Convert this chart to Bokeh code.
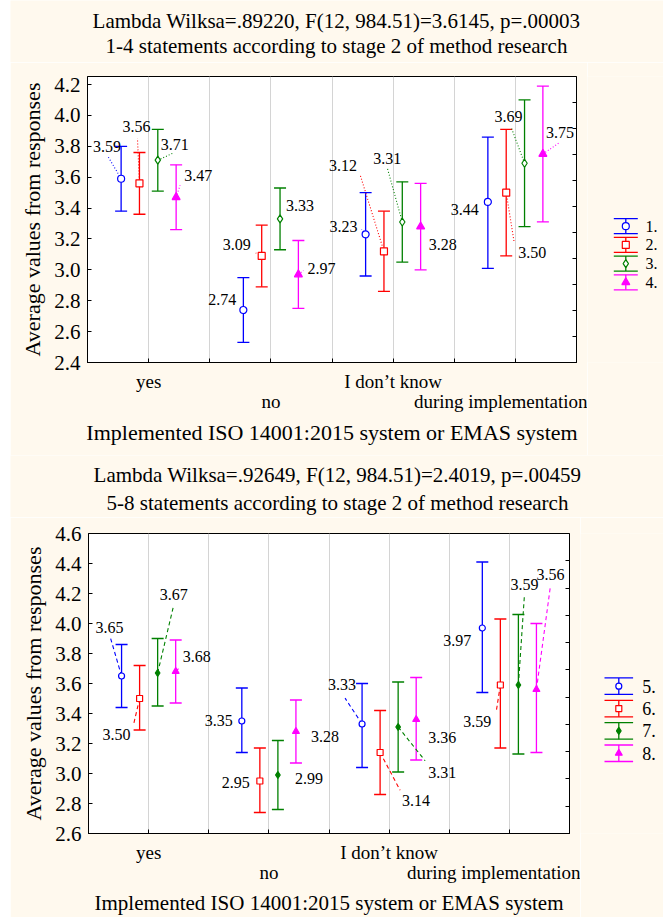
from bokeh.plotting import figure
from bokeh.models import (Range1d, FixedTicker, LinearAxis, Whisker, TeeHead,
                          ColumnDataSource, Grid, PrintfTickFormatter, Spacer)
from bokeh.layouts import column, row
from bokeh.embed import file_html
from bokeh.resources import INLINE
from bokeh.core.properties import value

FONT = "Liberation Serif"
CREAM = "#fff9ee"
COLORS = ["#0000ff", "#ff0000", "#008000", "#ff00ff"]

# ---------------- data ----------------
categories = ["yes", "no", "I don\u2019t know", "during implementation"]

top_series = ["1.", "2.", "3.", "4."]
top_means = [[3.59, 2.74, 3.23, 3.44],
             [3.56, 3.09, 3.12, 3.50],
             [3.71, 3.33, 3.31, 3.69],
             [3.47, 2.97, 3.28, 3.75]]
top_lower = [[3.38, 2.53, 2.96, 3.01],
             [3.36, 2.89, 2.86, 3.09],
             [3.51, 3.13, 3.05, 3.28],
             [3.26, 2.75, 3.00, 3.31]]
top_upper = [[3.80, 2.95, 3.50, 3.86],
             [3.76, 3.29, 3.38, 3.91],
             [3.91, 3.53, 3.57, 4.10],
             [3.68, 3.19, 3.56, 4.19]]

bottom_series = ["5.", "6.", "7.", "8."]
bottom_means = [[3.65, 3.35, 3.33, 3.97],
                [3.50, 2.95, 3.14, 3.59],
                [3.67, 2.99, 3.31, 3.59],
                [3.68, 3.28, 3.36, 3.56]]
bottom_lower = [[3.44, 3.14, 3.04, 3.54],
                [3.29, 2.74, 2.86, 3.17],
                [3.45, 2.76, 3.01, 3.13],
                [3.47, 3.07, 3.09, 3.14]]
bottom_upper = [[3.86, 3.57, 3.60, 4.41],
                [3.72, 3.17, 3.42, 4.03],
                [3.90, 3.22, 3.61, 4.06],
                [3.89, 3.49, 3.64, 4.00]]

top_title1 = "Lambda Wilksa=.89220, F(12, 984.51)=3.6145, p=.00003"
top_title2 = "1-4 statements according to stage 2 of method research"
bottom_title1 = "Lambda Wilksa=.92649, F(12, 984.51)=2.4019, p=.00459"
bottom_title2 = "5-8 statements according to stage 2 of method research"
x_title = "Implemented ISO 14001:2015 system or EMAS system"
y_title = "Average values from responses"
top_yticks = [2.4, 2.6, 2.8, 3.0, 3.2, 3.4, 3.6, 3.8, 4.0, 4.2]
bottom_yticks = [2.6, 2.8, 3.0, 3.2, 3.4, 3.6, 3.8, 4.0, 4.2, 4.4, 4.6]

# ---------------- style (label placement in screen pixels) ----------------
dodge = [-0.45, -0.15, 0.15, 0.45]

top_lab_dx = [[-14, -21, -22, -23], [-3, -25, -41, 26], [17, 20, -15, -16], [22, 23, 22, 17]]
top_lab_dy = [[-32, -10, -8, 8], [-57, -11, -86, 60], [-16, -13, -63, -47], [-22, -6, 18, -22]]
top_led_dx = [[-13, 0, -4, -4], [-2, -6, -24, 8], [15, 0, -15, -13], [4, 5, 0, 16]]
top_led_dy = [[-22, 0, -5, 3], [-45, -3, -77, 50], [-7, 0, -54, -35], [-12, -4, 0, -11]]

bot_lab_dx = [[-12, -23, -20, -25], [-23, -24, 36, -23], [16, 31, 44, 6], [21, 29, 26, 14]]
bot_lab_dy = [[-49, -1, -40, 12], [36, 1, 48, 36], [-79, 3, 45, -101], [-15, 5, 18, -115]]
bot_led_dx = [[-11, 0, -17, 0], [-6, 0, 20, -4], [16, 0, 27, 6], [4, 0, 0, 14]]
bot_led_dy = [[-38, 0, -26, 0], [26, 0, 38, 26], [-68, 0, 34, -90], [-4, 0, 0, -104]]

top_markers = [dict(marker="circle", size=7, fill_color="white"),
               dict(marker="square", size=7, fill_color="white"),
               dict(marker="diamond", size=8, fill_color="white"),
               dict(marker="triangle", size=8, fill_color=COLORS[3])]
bot_markers = [dict(marker="circle", size=6, fill_color="white"),
               dict(marker="square", size=6, fill_color="white"),
               dict(marker="diamond", size=7, fill_color=COLORS[2]),
               dict(marker="triangle", size=7, fill_color=COLORS[3])]

LEFT_PAD = 10
TOTAL_W = 663


def header_fig(t1, t2, height, c1, c2, cx):
    h = figure(width=TOTAL_W - LEFT_PAD, height=height, title=None,
               x_range=Range1d(LEFT_PAD, TOTAL_W), y_range=Range1d(height, 0),
               x_axis_type=None, y_axis_type=None, output_backend="svg",
               toolbar_location=None, min_border=0,
               background_fill_color=CREAM, border_fill_color=CREAM,
               outline_line_color=None)
    h.text(x=[cx, cx], y=[c1, c2], text=[t1, t2], text_align="center",
           text_baseline="middle", text_font=value(FONT),
           text_font_size="21px", text_color="black")
    return h


def main_chart(means, lows, highs, lab_dx, lab_dy, led_dx, led_dy, markers,
               y_start, y_end, y_ticks, width, height, ml, mr, mt, mb, dash, xt_size):
    p = figure(width=width, height=height, title=None,
               x_range=Range1d(0, 8), y_range=Range1d(y_start, y_end),
               x_axis_type=None, output_backend="svg", toolbar_location=None,
               min_border_left=ml, min_border_right=mr,
               min_border_top=mt, min_border_bottom=mb,
               background_fill_color="white", border_fill_color=CREAM,
               outline_line_color="black", outline_line_width=1)
    frame_w = width - ml - mr
    frame_h = height - mt - mb
    pxx = frame_w / 8.0
    pxy = frame_h / (y_end - y_start)

    p.ygrid.visible = False
    p.add_layout(Grid(dimension=0, ticker=FixedTicker(ticks=[1, 2, 3, 4, 5, 6, 7]),
                      grid_line_color="#d4d4d4", grid_line_width=1))

    ya = p.yaxis[0]
    ya.ticker = FixedTicker(ticks=y_ticks)
    ya.formatter = PrintfTickFormatter(format="%.1f")
    ya.major_tick_in = 4
    ya.major_tick_out = 0
    ya.minor_tick_line_color = None
    ya.major_label_standoff = 7
    ya.major_label_text_font = FONT
    ya.major_label_text_font_size = "21px"
    ya.major_label_text_color = "black"
    ya.axis_label = y_title
    ya.axis_label_text_font = FONT
    ya.axis_label_text_font_size = "22px"
    ya.axis_label_text_font_style = "normal"
    ya.axis_label_text_color = "black"
    ya.axis_label_standoff = 6
    ya.axis_line_color = "black"

    rt = [y_start + k * (y_end - y_start) / 11.0 for k in range(1, 11)]
    ra = LinearAxis(ticker=FixedTicker(ticks=[], minor_ticks=rt),
                    major_tick_line_color=None,
                    minor_tick_in=4, minor_tick_out=0, minor_tick_line_color="black",
                    major_label_standoff=0, axis_line_color="black")
    p.add_layout(ra, "right")

    ax1 = LinearAxis(ticker=FixedTicker(ticks=[1, 5], minor_ticks=[0, 2, 3, 4, 6, 7, 8]),
                     major_label_overrides={1: categories[0], 5: categories[2]},
                     major_tick_in=4, major_tick_out=0,
                     minor_tick_in=4, minor_tick_out=0, minor_tick_line_color="black",
                     major_label_standoff=8, major_label_text_font=FONT,
                     major_label_text_font_size="19px", major_label_text_color="black",
                     axis_line_color="black")
    p.add_layout(ax1, "below")
    ax2 = LinearAxis(ticker=FixedTicker(ticks=[3, 7]),
                     major_label_overrides={3: categories[1], 7: categories[3]},
                     major_tick_line_color=None, minor_tick_line_color=None,
                     axis_line_color=None, major_label_standoff=-10,
                     major_label_text_font=FONT, major_label_text_font_size="19px",
                     major_label_text_color="black",
                     axis_label=x_title, axis_label_text_font=FONT,
                     axis_label_text_font_size=xt_size, axis_label_text_font_style="normal",
                     axis_label_text_color="black", axis_label_standoff=5)
    p.add_layout(ax2, "below")

    for s in range(4):
        c = COLORS[s]
        xs = [2 * i + 1 + dodge[s] for i in range(4)]
        src = ColumnDataSource(dict(x=xs, m=means[s], lo=lows[s], hi=highs[s],
                                    t=["%.2f" % v for v in means[s]],
                                    dx=lab_dx[s], dy=lab_dy[s]))
        w = Whisker(base="x", lower="lo", upper="hi", source=src, dimension="height",
                    line_color=c, line_width=1.3, level="underlay",
                    upper_head=TeeHead(size=12, line_color=c, line_width=1.3),
                    lower_head=TeeHead(size=12, line_color=c, line_width=1.3))
        p.add_layout(w)
        lx0, ly0, lx1, ly1 = [], [], [], []
        for i in range(4):
            if led_dx[s][i] == 0 and led_dy[s][i] == 0:
                continue
            lx0.append(xs[i]); ly0.append(means[s][i])
            lx1.append(xs[i] + led_dx[s][i] / pxx)
            ly1.append(means[s][i] - led_dy[s][i] / pxy)
        p.segment(x0=lx0, y0=ly0, x1=lx1, y1=ly1, line_color=c, line_width=1.1,
                  line_dash=dash)
        p.scatter(x="x", y="m", source=src, line_color=c, line_width=1.2, **markers[s])
        p.text(x="x", y="m", text="t", x_offset="dx", y_offset="dy", source=src,
               text_align="center", text_baseline="middle", text_font=value(FONT),
               text_font_size="16px", text_color="black")
    return p


def legend_fig(names, markers, width, height, mt, mb, cx, hw, hh, y0, dy, lab_x, fsize):
    q = figure(width=width, height=height, title=None, x_range=Range1d(0, width),
               y_range=Range1d(height - mb, mt), x_axis_type=None, y_axis_type=None,
               output_backend="svg", toolbar_location=None,
               min_border_left=0, min_border_right=0,
               min_border_top=mt, min_border_bottom=mb,
               background_fill_color=CREAM, border_fill_color=CREAM,
               outline_line_color=None)
    for s in range(4):
        c = COLORS[s]
        y = y0 + s * dy
        q.segment(x0=[cx - hw, cx - hw, cx], y0=[y - hh, y + hh, y - hh],
                  x1=[cx + hw, cx + hw, cx], y1=[y - hh, y + hh, y + hh],
                  line_color=c, line_width=1.3)
        q.scatter(x=[cx], y=[y], line_color=c, line_width=1.2, **markers[s])
        q.text(x=[lab_x], y=[y], text=[names[s]], text_align="left",
               text_baseline="middle", text_font=value(FONT),
               text_font_size=fsize, text_color="black")
    return q


# top chart: header 0..62, plot 62..455
h1 = header_fig(top_title1, top_title2, 62, 20.5, 45, 336)
p1 = main_chart(top_means, top_lower, top_upper, top_lab_dx, top_lab_dy,
                top_led_dx, top_led_dy, top_markers,
                2.4, 4.252, top_yticks, 577, 393, 77, 11, 14, 93, "1 2", "22px")
l1 = legend_fig(top_series, top_markers, 76, 393, 14, 93,
                38.3, 12, 7.5, 225.7 - 62, 18.7, 58, "16px")

# bottom chart: header 455..517, plot 517..917
h2 = header_fig(bottom_title1, bottom_title2, 62, 19.5, 47, 337)
p2 = main_chart(bottom_means, bottom_lower, bottom_upper, bot_lab_dx, bot_lab_dy,
                bot_led_dx, bot_led_dy, bot_markers,
                2.6, 4.6, bottom_yticks, 570, 400, 78, 11, 16, 82, "4 3", "21px")
l2 = legend_fig(bottom_series, bot_markers, 83, 400, 16, 82,
                38.3, 14.3, 8.3, 686.7 - 517, 22.5, 61.7, "18px")

layout = column(row(Spacer(width=LEFT_PAD, height=62), h1),
                row(Spacer(width=LEFT_PAD, height=393), p1, l1),
                row(Spacer(width=LEFT_PAD, height=62), h2),
                row(Spacer(width=LEFT_PAD, height=400), p2, l2))
open("out.html", "w").write(file_html(layout, INLINE))
